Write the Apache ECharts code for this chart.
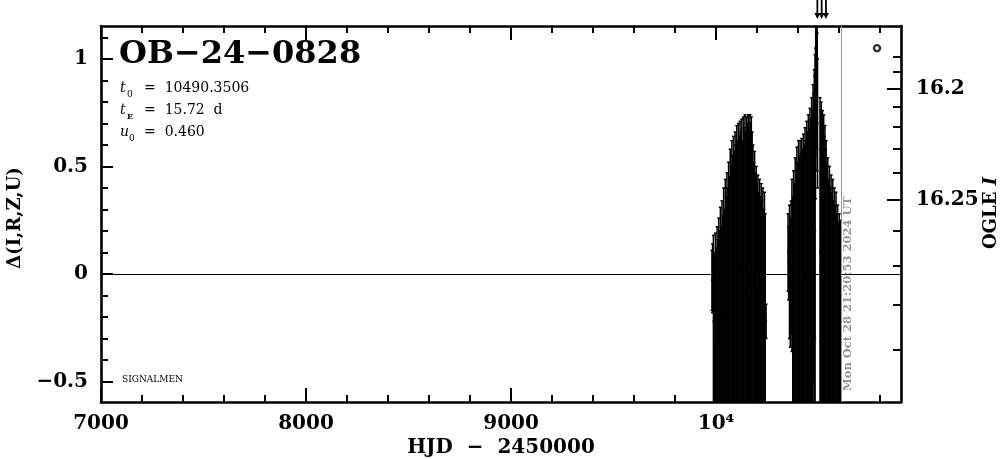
<!DOCTYPE html>
<html>
<head>
<meta charset="utf-8">
<script src="https://cdn.jsdelivr.net/npm/echarts@6/dist/echarts.min.js"></script>
<style>html,body{margin:0;padding:0;background:#fff;}#c{width:1004px;height:459px;}</style>
</head>
<body>
<div id="c"></div>
<script>
// ---- axis ticks / labels ----
const majorX = [7000, 8000, 9000, 10000];
const minorX = [7200, 7400, 7600, 7800, 8200, 8400, 8600, 8800, 9200, 9400, 9600, 9800, 10200, 10400, 10600, 10800];
const majorY = [-0.5, 0, 0.5, 1];
const minorY = [-0.4, -0.3, -0.2, -0.1, 0.1, 0.2, 0.3, 0.4, 0.6, 0.7, 0.8, 0.9, 1.1];
const ogleMajor = [16.2, 16.25];
const ogleMinor = [16.18, 16.19, 16.21, 16.22, 16.23, 16.24, 16.26, 16.27, 16.28, 16.29];

// ---- season 1 ----
const s1Hjd = [9980,9983,9987,9992,9997,10001,10005,10009,10013,10017,10021,10025,10029,10033,10037,10041,10045,10049,10053,10057,10061,10065,10069,10073,10077,10081,10085,10089,10093,10097,10101,10105,10109,10113,10117,10121,10125,10129,10133,10137,10141,10145,10149,10153,10157,10161,10165,10168,10172,10176,10180,10184,10188,10192,10196,10200,10204,10208,10212,10216,10220,10224,10228,10232,10236,10240,10244];
const s1Delta = [-0.03,-0.02,-0.22,-0.30,-0.20,-0.32,-0.22,-0.28,-0.19,-0.30,-0.16,-0.24,-0.21,-0.20,-0.21,-0.20,-0.11,-0.21,-0.12,-0.12,-0.14,-0.14,-0.05,-0.14,-0.04,-0.15,-0.01,-0.09,-0.07,-0.01,-0.05,-0.04,0.01,-0.09,0.03,-0.04,-0.04,-0.01,0.02,-0.09,0.04,-0.04,-0.04,0.04,0.01,-0.06,0.03,-0.07,0.02,-0.05,-0.03,-0.14,-0.07,-0.08,-0.14,-0.13,-0.14,-0.13,-0.18,-0.17,-0.12,-0.21,-0.21,-0.19,-0.17,-0.25,-0.22];
const s1Err = [0.14,0.16,0.40,0.40,0.39,0.44,0.44,0.44,0.45,0.50,0.47,0.46,0.55,0.47,0.61,0.50,0.55,0.57,0.59,0.52,0.66,0.59,0.63,0.64,0.66,0.70,0.65,0.66,0.73,0.61,0.74,0.66,0.69,0.73,0.68,0.70,0.76,0.63,0.71,0.77,0.70,0.70,0.77,0.66,0.73,0.73,0.71,0.77,0.71,0.71,0.63,0.66,0.64,0.55,0.64,0.55,0.60,0.51,0.62,0.53,0.54,0.55,0.61,0.49,0.55,0.53,0.08];

// ---- season 2 ----
const s2Hjd = [10351,10354,10358,10362,10366,10370,10374,10378,10382,10386,10390,10394,10398,10402,10406,10410,10414,10418,10422,10426,10430,10434,10438,10442,10446,10450,10454,10458,10462,10466,10470,10473,10476,10479,10481,10483,10485,10486,10487,10488,10489,10490,10491,10492,10493,10495,10507,10510,10513,10516,10519,10522,10525,10528,10531,10534,10537,10541,10545,10549,10553,10557,10561,10565,10569,10573,10577,10581,10585,10589,10593,10597,10601,10605,10608];
const s2Delta = [0.10,0.05,0.01,-0.04,0.03,0.04,-0.13,-0.11,-0.19,-0.06,-0.14,-0.06,-0.16,-0.02,-0.10,-0.09,-0.06,-0.07,-0.03,-0.09,-0.05,-0.05,-0.02,-0.05,-0.03,-0.05,0.00,0.01,0.03,0.01,0.07,0.07,0.17,0.15,0.31,0.20,0.70,0.85,1.02,1.10,0.92,1.05,0.98,0.88,0.80,0.70,0.10,0.01,0.07,-0.05,0.06,-0.04,0.02,-0.09,0.02,-0.08,-0.03,-0.15,-0.05,-0.16,-0.10,-0.22,-0.10,-0.18,-0.18,-0.17,-0.18,-0.16,-0.22,-0.21,-0.23,-0.21,-0.28,-0.24,-0.26];
const s2Err = [0.18,0.17,0.31,0.30,0.31,0.40,0.49,0.59,0.61,0.60,0.62,0.65,0.68,0.64,0.65,0.71,0.62,0.70,0.61,0.74,0.65,0.73,0.64,0.76,0.69,0.79,0.68,0.76,0.69,0.81,0.69,0.81,0.67,0.80,0.61,0.82,0.35,0.30,0.25,0.15,0.28,0.22,0.25,0.30,0.32,0.30,0.72,0.75,0.73,0.75,0.70,0.72,0.72,0.73,0.67,0.66,0.65,0.65,0.59,0.60,0.60,0.62,0.56,0.56,0.62,0.51,0.58,0.48,0.60,0.49,0.55,0.45,0.56,0.46,0.51];

// ---- markers ----
const arrowHjd = [10494, 10515, 10536];
const ogleSymbol = [[10785, 1.05]];
const zeroLevel = 0;
const todayHjd = 10612;

// OGLE I magnitude <-> Delta mapping of the right axis
const MA = 2.658, MB = 0.4005, MC = 16.423;
const magToDelta = m => MA - MB / (MC - m);
const deltaToMag = d => MC - MB / (MA - d);

const XMIN = 7000, XMAX = 10902, YMIN = -0.595, YMAX = 1.153;
const FONT = '"DejaVu Serif", serif';

function zip(h, d, e) { return h.map((x, i) => [x, d[i], e[i]]); }

function errRender(params, api) {
  const x = api.value(0), v = api.value(1), e = api.value(2);
  const t = api.coord([x, v + e]), b = api.coord([x, v - e]), c = api.coord([x, v]);
  const st = { stroke: '#000', lineWidth: 1.5 };
  return { type: 'group', children: [
    { type: 'line', shape: { x1: t[0], y1: t[1], x2: b[0], y2: b[1] }, style: st },
    { type: 'line', shape: { x1: t[0] - 1.5, y1: t[1], x2: t[0] + 1.5, y2: t[1] }, style: st },
    { type: 'line', shape: { x1: b[0] - 1.5, y1: b[1], x2: b[0] + 1.5, y2: b[1] }, style: st },
    { type: 'rect', shape: { x: c[0] - 1, y: c[1] - 1, width: 2, height: 2 }, style: { fill: '#000' } }
  ]};
}

function arrowRender(params, api) {
  const p = api.coord([api.value(0), YMAX]);
  const x = p[0], y = p[1];
  return { type: 'group', children: [
    { type: 'line', shape: { x1: x, y1: y - 26, x2: x, y2: y - 12 }, style: { stroke: '#000', lineWidth: 1.8 } },
    { type: 'polygon', shape: { points: [[x - 3, y - 13], [x + 3, y - 13], [x, y - 7]] }, style: { fill: '#000' } }
  ]};
}

function xAx(pos, vals, len, showLine, showLabel) {
  return {
    type: 'value', position: pos, min: XMIN, max: XMAX, gridIndex: 0,
    axisLine: { show: showLine, onZero: false, lineStyle: { color: '#000', width: 2.6 } },
    axisTick: { show: true, inside: true, length: len, customValues: vals, lineStyle: { color: '#000', width: 2 } },
    axisLabel: showLabel ? {
      show: true, customValues: vals, margin: 12, color: '#000',
      fontFamily: FONT, fontWeight: 'bold', fontSize: 20,
      formatter: v => (v === 10000 ? '10⁴' : String(v))
    } : { show: false },
    splitLine: { show: false }, minorTick: { show: false }
  };
}
function yAx(pos, vals, len, showLine, labelFn) {
  return {
    type: 'value', position: pos, min: YMIN, max: YMAX, gridIndex: 0,
    axisLine: { show: showLine, onZero: false, lineStyle: { color: '#000', width: 2.6 } },
    axisTick: { show: true, inside: true, length: len, customValues: vals, lineStyle: { color: '#000', width: 2 } },
    axisLabel: labelFn ? {
      show: true, customValues: vals, margin: pos === 'left' ? 13 : 15, color: '#000',
      fontFamily: FONT, fontWeight: 'bold', fontSize: 20, formatter: labelFn
    } : { show: false },
    splitLine: { show: false }, minorTick: { show: false }
  };
}

const chart = echarts.init(document.getElementById('c'));
chart.setOption({
  animation: false,
  backgroundColor: '#fff',
  grid: { left: 101, right: 103, top: 26, bottom: 57 },
  xAxis: [
    xAx('bottom', majorX, 14, true, true),
    xAx('bottom', minorX, 7, false, false),
    xAx('top', majorX, 14, true, false),
    xAx('top', minorX, 7, false, false)
  ],
  yAxis: [
    yAx('left', majorY, 12, true, v => (v < 0 ? '−' + Math.abs(v) : String(v))),
    yAx('left', minorY, 7, false, null),
    yAx('right', ogleMajor.map(magToDelta), 14, true, v => String(Math.round(deltaToMag(v) * 100) / 100)),
    yAx('right', ogleMinor.map(magToDelta), 8, false, null)
  ],
  series: [
    { type: 'custom', name: 'season1', renderItem: errRender, data: zip(s1Hjd, s1Delta, s1Err),
      encode: { x: 0, y: 1 }, clip: true, xAxisIndex: 0, yAxisIndex: 0, silent: true },
    { type: 'custom', name: 'season2', renderItem: errRender, data: zip(s2Hjd, s2Delta, s2Err),
      encode: { x: 0, y: 1 }, clip: true, xAxisIndex: 0, yAxisIndex: 0, silent: true },
    { type: 'custom', name: 'arrows', renderItem: arrowRender, data: arrowHjd.map(h => [h]),
      encode: { x: 0 }, clip: false, xAxisIndex: 0, yAxisIndex: 0, silent: true, z: 5 },
    { type: 'scatter', name: 'OGLE', data: ogleSymbol, symbol: 'circle', symbolSize: 6,
      itemStyle: { color: '#fff', borderColor: '#000', borderWidth: 2.4 }, xAxisIndex: 0, yAxisIndex: 0,
      silent: true,
      markLine: { silent: true, symbol: ['none', 'none'], label: { show: false },
        data: [
          { yAxis: zeroLevel, lineStyle: { color: '#000', width: 1, type: 'solid' } },
          { xAxis: todayHjd, lineStyle: { color: '#969696', width: 1, type: 'solid' } }
        ] } }
  ],
  graphic: [
    { type: 'text', x: 119, y: 55, style: { text: 'OB−24−0828', font: 'bold 32px ' + FONT, fill: '#000', verticalAlign: 'middle' } },
    { type: 'text', x: 120, y: 88, style: { text: 't', font: 'italic 14px ' + FONT, fill: '#000', verticalAlign: 'middle' } },
    { type: 'text', x: 127, y: 95, style: { text: '0', font: '9px ' + FONT, fill: '#000', verticalAlign: 'middle' } },
    { type: 'text', x: 144, y: 88, style: { text: '=  10490.3506', font: '14px ' + FONT, fill: '#000', verticalAlign: 'middle' } },
    { type: 'text', x: 120, y: 110, style: { text: 't', font: 'italic 14px ' + FONT, fill: '#000', verticalAlign: 'middle' } },
    { type: 'text', x: 127, y: 117, style: { text: 'E', font: 'bold 8px ' + FONT, fill: '#000', verticalAlign: 'middle' } },
    { type: 'text', x: 144, y: 110, style: { text: '=  15.72  d', font: '14px ' + FONT, fill: '#000', verticalAlign: 'middle' } },
    { type: 'text', x: 120, y: 132, style: { text: 'u', font: 'italic 14px ' + FONT, fill: '#000', verticalAlign: 'middle' } },
    { type: 'text', x: 129, y: 139, style: { text: '0', font: '9px ' + FONT, fill: '#000', verticalAlign: 'middle' } },
    { type: 'text', x: 144, y: 132, style: { text: '=  0.460', font: '14px ' + FONT, fill: '#000', verticalAlign: 'middle' } },
    { type: 'text', x: 122, y: 380, style: { text: 'SIGNALMEN', font: '9px ' + FONT, fill: '#000', verticalAlign: 'middle' } },
    { type: 'text', x: 848, y: 391, rotation: Math.PI / 2, style: { text: 'Mon Oct 28 21:20:53 2024 UT', font: 'bold 11.5px ' + FONT, fill: '#969696', verticalAlign: 'middle', align: 'left' } },
    { type: 'text', x: 15, y: 218, rotation: Math.PI / 2, style: { text: 'Δ(I,R,Z,U)', font: 'bold 18px ' + FONT, fill: '#000', verticalAlign: 'middle', align: 'center' } },
    { type: 'text', x: 991, y: 213, rotation: Math.PI / 2, style: { text: '{b|OGLE }{i|I}', rich: { b: { font: 'bold 18px ' + FONT, fill: '#000' }, i: { font: 'italic bold 18px ' + FONT, fill: '#000' } }, verticalAlign: 'middle', align: 'center' } },
    { type: 'text', x: 501, y: 448, style: { text: 'HJD  −  2450000', font: 'bold 20px ' + FONT, fill: '#000', verticalAlign: 'middle', align: 'center' } }
  ]
});
</script>
</body>
</html>
